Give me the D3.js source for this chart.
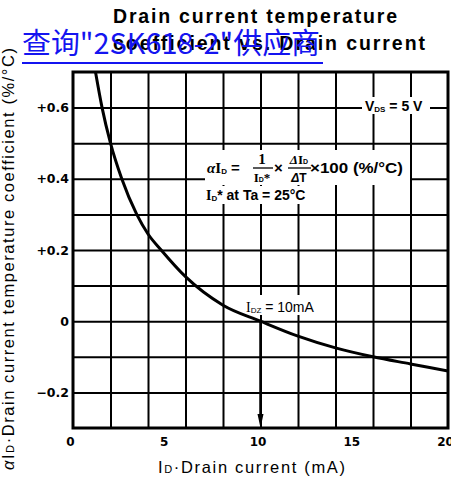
<!DOCTYPE html>
<html><head><meta charset="utf-8">
<script src="https://cdn.jsdelivr.net/npm/d3@7"></script>
<style>body{margin:0;background:#fff}</style>
</head><body><svg id="c" width="451" height="484"></svg>
<script>
// ---- data ----
const current = [1.2, 1.55, 2.0, 2.6, 3.4, 4.0, 4.7, 6, 8, 10, 12, 14, 16, 18, 20];
const coefficient = [0.70, 0.60, 0.50, 0.40, 0.30, 0.245, 0.20, 0.125, 0.045, 0, -0.042, -0.075, -0.10, -0.12, -0.14];
const xTickValues = [0, 5, 10, 15, 20];
const xTickLabels = ["0", "5", "10", "15", "20"];
const yTickValues = [0.6, 0.4, 0.2, 0, -0.2];
const yTickLabels = ["+0.6", "+0.4", "+0.2", "0", "\u22120.2"];
const xGridValues = [2, 4, 6, 8, 10, 12, 14, 16, 18];
const yGridValues = [-0.2, -0.1, 0, 0.1, 0.2, 0.3, 0.4, 0.5, 0.6];
const xDomain = [0, 20];
const yDomain = [-0.3, 0.7];
const zeroCurrent = 10; // I_DZ = 10 mA

const fSans = "'Liberation Sans', Arial, sans-serif";
const fSerif = "'Liberation Serif', 'DejaVu Serif', serif";
const fTick = "'DejaVu Sans', sans-serif";

const svg = d3.select("#c");
const x = d3.scaleLinear().domain(xDomain).range([73, 448]);
const y = d3.scaleLinear().domain(yDomain).range([428, 72]);
const W = x(20) - x(0), H = y(-0.3) - y(0.7);

// grid
svg.append("g").attr("transform", `translate(0,${y(-0.3)})`)
  .call(d3.axisBottom(x).tickValues(xGridValues).tickSize(-H).tickFormat(""))
  .call(g => { g.select(".domain").remove(); g.selectAll("line").attr("stroke", "#000").attr("stroke-width", 2); });
svg.append("g").attr("transform", `translate(${x(0)},0)`)
  .call(d3.axisLeft(y).tickValues(yGridValues).tickSize(-W).tickFormat(""))
  .call(g => { g.select(".domain").remove(); g.selectAll("line").attr("stroke", "#000").attr("stroke-width", 2); });

// tick labels
svg.append("g").attr("transform", `translate(-3,${y(-0.3)})`)
  .call(d3.axisBottom(x).tickValues(xTickValues).tickSize(0).tickPadding(9).tickFormat((d, i) => xTickLabels[i]))
  .call(g => { g.select(".domain").remove();
    g.selectAll("text").attr("font-family", fTick).attr("font-weight", "bold").attr("font-size", 12).attr("fill", "#000"); });
svg.append("g").attr("transform", `translate(${x(0)},0)`)
  .call(d3.axisLeft(y).tickValues(yTickValues).tickSize(0).tickPadding(4).tickFormat((d, i) => yTickLabels[i]))
  .call(g => { g.select(".domain").remove();
    g.selectAll("text").attr("font-family", fTick).attr("font-weight", "bold").attr("font-size", 12.5).attr("fill", "#000"); });

// white label boxes (interrupt the grid)
const boxes = [[362, 97, 68, 17], [205, 150, 205, 35], [205, 186, 117, 18], [243, 295, 79, 20]];
svg.append("g").selectAll("rect").data(boxes).join("rect")
  .attr("x", d => d[0]).attr("y", d => d[1]).attr("width", d => d[2]).attr("height", d => d[3]).attr("fill", "#fff");

// curve
svg.append("clipPath").attr("id", "pc").append("rect").attr("x", x(0)).attr("y", y(0.7)).attr("width", W).attr("height", H);
const pts = current.map((c, i) => [c, coefficient[i]]);
svg.append("path").datum(pts).attr("clip-path", "url(#pc)")
  .attr("d", d3.line().x(d => x(d[0])).y(d => y(d[1])).curve(d3.curveMonotoneX))
  .attr("fill", "none").attr("stroke", "#000").attr("stroke-width", 3);

// arrow at I_DZ
svg.append("line").attr("x1", x(zeroCurrent)).attr("x2", x(zeroCurrent)).attr("y1", y(0)).attr("y2", y(-0.3) - 10)
  .attr("stroke", "#000").attr("stroke-width", 2.5);
svg.append("path").attr("d", `M${x(zeroCurrent) - 3},${y(-0.3) - 14} L${x(zeroCurrent) + 3},${y(-0.3) - 14} L${x(zeroCurrent)},${y(-0.3)} Z`).attr("fill", "#000");

// frame
svg.append("rect").attr("x", x(0)).attr("y", y(0.7)).attr("width", W).attr("height", H)
  .attr("fill", "none").attr("stroke", "#000").attr("stroke-width", 3);

// annotations
const ann = svg.append("g").attr("fill", "#000");
// V_DS = 5 V
const v = ann.append("text").attr("x", 365).attr("y", 111).attr("font-family", fSans).attr("font-weight", "bold").attr("font-size", 14);
v.append("tspan").text("V");
v.append("tspan").attr("font-size", 8).attr("dy", 1).text("DS");
v.append("tspan").attr("dy", -1).text(" = 5 V");

// formula
const fm = ann.append("g").attr("font-weight", "bold");
const a = fm.append("text").attr("x", 207).attr("y", 173).attr("font-size", 15).attr("font-family", fSerif);
a.append("tspan").attr("font-style", "italic").text("\u03b1");
a.append("tspan").text("I");
a.append("tspan").attr("font-size", 8).attr("dy", 1).attr("font-family", fSans).text("D");
a.append("tspan").attr("dy", -1).attr("font-family", fSans).text(" =");
fm.append("text").attr("x", 262).attr("y", 164).attr("text-anchor", "middle").attr("font-family", fSerif).attr("font-size", 15).text("1");
fm.append("line").attr("x1", 253).attr("x2", 273).attr("y1", 168).attr("y2", 168).attr("stroke", "#000").attr("stroke-width", 1.3);
const d1 = fm.append("text").attr("x", 262).attr("y", 182).attr("text-anchor", "middle").attr("font-family", fSerif).attr("font-size", 13);
d1.append("tspan").text("I");
d1.append("tspan").attr("font-size", 7).attr("font-family", fSans).text("D");
d1.append("tspan").text("*");
fm.append("text").attr("x", 274).attr("y", 173).attr("font-family", fSans).attr("font-size", 15).text("\u00d7");
const n2 = fm.append("text").attr("x", 299).attr("y", 164).attr("text-anchor", "middle").attr("font-family", fSerif).attr("font-size", 13);
n2.append("tspan").attr("font-style", "italic").text("\u0394");
n2.append("tspan").text("I");
n2.append("tspan").attr("font-size", 7).attr("font-family", fSans).text("D");
fm.append("line").attr("x1", 288).attr("x2", 311).attr("y1", 168).attr("y2", 168).attr("stroke", "#000").attr("stroke-width", 1.3);
const d2 = fm.append("text").attr("x", 299).attr("y", 182).attr("text-anchor", "middle").attr("font-family", fSans).attr("font-size", 12);
d2.append("tspan").attr("font-style", "italic").text("\u0394");
d2.append("tspan").text("T");
fm.append("text").attr("x", 310).attr("y", 173).attr("font-family", fSans).attr("font-size", 15)
  .attr("textLength", 93).attr("lengthAdjust", "spacingAndGlyphs").text("\u00d7100 (%/\u00b0C)");
const l2 = fm.append("text").attr("x", 206).attr("y", 200).attr("font-family", fSans).attr("font-size", 14);
l2.append("tspan").attr("font-family", fSerif).text("I");
l2.append("tspan").attr("font-size", 8).attr("dy", 1).text("D");
l2.append("tspan").attr("dy", -1).text("* at Ta = 25\u00b0C");

// I_DZ = 10mA
const iz = ann.append("text").attr("x", 246).attr("y", 312).attr("font-family", fSans).attr("font-size", 14);
iz.append("tspan").attr("font-family", fSerif).text("I");
iz.append("tspan").attr("font-size", 8).attr("dy", 1).text("DZ");
iz.append("tspan").attr("dy", -1).text(" = 10mA");

// titles
svg.append("text").attr("x", 113).attr("y", 23).attr("font-family", fSans).attr("font-weight", "bold").attr("font-size", 19.5)
  .attr("textLength", 284).attr("lengthAdjust", "spacing").text("Drain current temperature");
svg.append("text").attr("x", 113).attr("y", 50).attr("font-family", fSans).attr("font-weight", "bold").attr("font-size", 19.5)
  .attr("textLength", 312).attr("lengthAdjust", "spacing").text("coefficient vs. Drain current");

// axis titles
const xt = svg.append("text").attr("x", 158).attr("y", 473).attr("font-family", fSans).attr("font-size", 16.5)
  .attr("textLength", 187).attr("lengthAdjust", "spacing");
xt.append("tspan").text("I");
xt.append("tspan").attr("font-size", 11).text("D");
xt.append("tspan").text("\u00b7Drain current  (mA)");
const yt = svg.append("text").attr("transform", "translate(14,470) rotate(-90)").attr("font-family", fSans).attr("font-size", 16.5)
  .attr("textLength", 422).attr("lengthAdjust", "spacing");
yt.append("tspan").attr("font-style", "italic").text("\u03b1");
yt.append("tspan").text("I");
yt.append("tspan").attr("font-size", 11).text("D");
yt.append("tspan").text("\u00b7Drain current temperature coefficient  (%/\u00b0C)");

// watermark overlay
svg.append("text").attr("x", 22).attr("y", 54).attr("font-family", "'Noto Sans CJK SC', sans-serif").attr("font-size", 29)
  .attr("fill", "#1414f0").attr("textLength", 298).attr("lengthAdjust", "spacingAndGlyphs")
  .text("\u67e5\u8be2\"2SK618-2\"\u4f9b\u5e94\u5546");
svg.append("line").attr("x1", 22).attr("x2", 323).attr("y1", 63).attr("y2", 63).attr("stroke", "#1414f0").attr("stroke-width", 2);
</script></body></html>
